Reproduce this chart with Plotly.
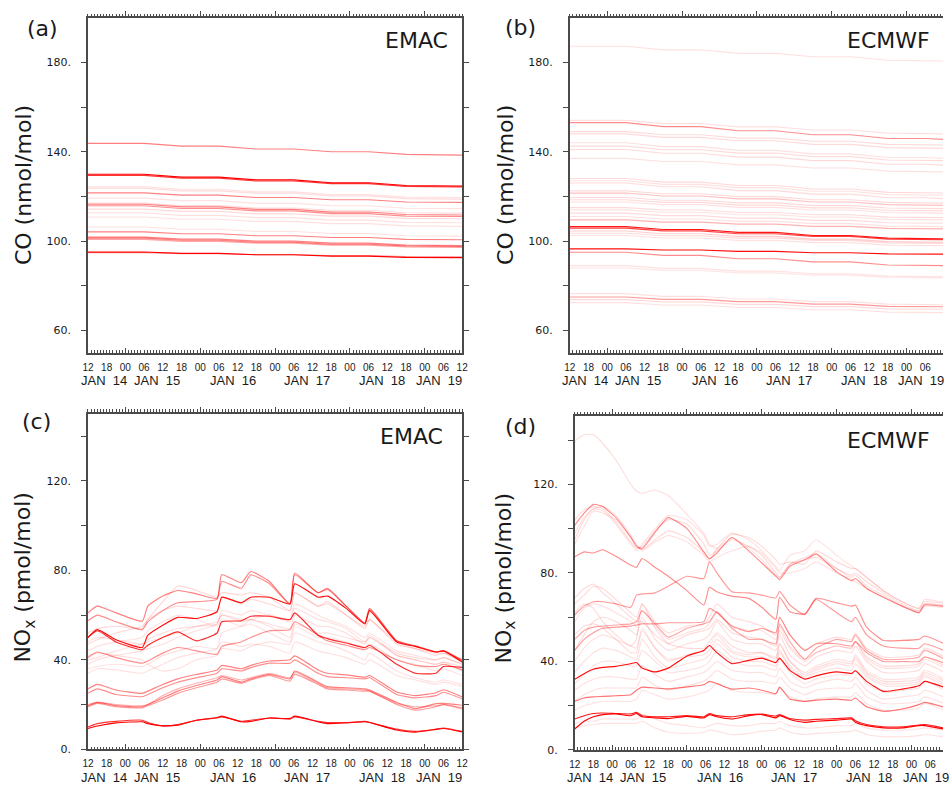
import plotly.graph_objects as go

# ---------------- time axis (hours after the first tick, 12 UTC) ----------------
hour_ticks = [0, 6, 12, 18, 24, 30, 36, 42, 48, 54, 60, 66, 72, 78, 84, 90, 96, 102, 108, 114, 120]
hour_labels = ["12", "18", "00", "06", "12", "18", "00", "06", "12", "18", "00", "06",
               "12", "18", "00", "06", "12", "18", "00", "06", "12"]
date_label_hours = [5, 22, 46.5, 70.3, 94.4, 112.7]
date_labels = ["JAN\u00a0\u00a014", "JAN\u00a0\u00a015", "JAN\u00a0\u00a016",
               "JAN\u00a0\u00a017", "JAN\u00a0\u00a018", "JAN\u00a0\u00a019"]

# ---------------- CO, EMAC (nmol/mol) ----------------
co_hours = [0, 18, 30, 42, 54, 66, 78, 90, 102, 114, 120]
co_emac = [
    [143.7, 143.7, 142.5, 142.5, 141.2, 141.2, 140.0, 140.0, 138.8, 138.8, 138.5],
    [129.9, 129.9, 128.6, 128.6, 127.4, 127.4, 126.1, 126.1, 124.9, 124.9, 124.6],
    [129.4, 129.4, 128.2, 128.2, 126.9, 126.9, 125.7, 125.7, 124.5, 124.5, 124.2],
    [124.3, 124.3, 123.2, 123.2, 122.0, 122.0, 120.8, 120.8, 119.7, 119.7, 119.5],
    [123.7, 123.7, 122.5, 122.5, 121.4, 121.4, 120.2, 120.2, 119.0, 119.0, 118.8],
    [121.6, 121.6, 120.6, 120.6, 119.5, 119.5, 118.5, 118.5, 117.5, 117.5, 117.3],
    [119.2, 119.2, 118.1, 118.1, 116.9, 116.9, 115.8, 115.8, 114.7, 114.7, 114.5],
    [117.0, 117.0, 115.9, 115.9, 114.8, 114.8, 113.8, 113.8, 112.7, 112.7, 112.5],
    [116.5, 116.5, 115.3, 115.3, 114.2, 114.2, 113.0, 113.0, 111.9, 111.9, 111.7],
    [115.8, 115.8, 114.6, 114.6, 113.5, 113.5, 112.3, 112.3, 111.2, 111.2, 111.0],
    [114.3, 114.3, 113.3, 113.3, 112.2, 112.2, 111.2, 111.2, 110.2, 110.2, 110.0],
    [112.6, 112.6, 111.5, 111.5, 110.5, 110.5, 109.4, 109.4, 108.4, 108.4, 108.2],
    [110.8, 110.8, 109.8, 109.8, 108.8, 108.8, 107.8, 107.8, 106.8, 106.8, 106.6],
    [106.3, 106.3, 105.3, 105.3, 104.3, 104.3, 103.4, 103.4, 102.4, 102.4, 102.2],
    [104.1, 104.1, 103.3, 103.3, 102.4, 102.4, 101.6, 101.6, 100.8, 100.8, 100.6],
    [101.8, 101.8, 100.9, 100.9, 100.0, 100.0, 99.1, 99.1, 98.2, 98.2, 98.0],
    [101.3, 101.3, 100.4, 100.4, 99.5, 99.5, 98.6, 98.6, 97.8, 97.8, 97.6],
    [100.8, 100.8, 99.9, 99.9, 99.1, 99.1, 98.2, 98.2, 97.4, 97.4, 97.2],
    [95.1, 95.1, 94.5, 94.5, 93.9, 93.9, 93.3, 93.3, 92.7, 92.7, 92.6],
    [94.8, 94.8, 94.4, 94.4, 93.9, 93.9, 93.5, 93.5, 93.1, 93.1, 93.0],
]
co_emac_weight = [0.5, 1.0, 0.8, 0.12, 0.15, 0.5, 0.12, 0.15, 0.5, 0.45,
                  0.15, 0.12, 0.12, 0.12, 0.5, 0.5, 0.5, 0.35, 1.0, 0.4]

# ---------------- CO, ECMWF (nmol/mol) ----------------
co_ecmwf = [
    [187.2, 187.2, 185.6, 185.6, 184.0, 184.0, 182.5, 182.5, 180.9, 180.9, 180.6],
    [154.0, 154.0, 152.6, 152.6, 151.1, 151.1, 149.7, 149.7, 148.3, 148.3, 148.0],
    [153.0, 153.0, 151.2, 151.2, 149.4, 149.4, 147.6, 147.6, 145.9, 145.9, 145.5],
    [149.0, 149.0, 147.6, 147.6, 146.1, 146.1, 144.7, 144.7, 143.3, 143.3, 143.0],
    [148.0, 148.0, 146.4, 146.4, 144.9, 144.9, 143.3, 143.3, 141.8, 141.8, 141.5],
    [144.0, 144.0, 142.3, 142.3, 140.6, 140.6, 139.0, 139.0, 137.4, 137.4, 137.0],
    [142.5, 142.5, 140.9, 140.9, 139.4, 139.4, 137.8, 137.8, 136.3, 136.3, 136.0],
    [141.0, 141.0, 139.3, 139.3, 137.6, 137.6, 136.0, 136.0, 134.4, 134.4, 134.0],
    [137.0, 137.0, 135.6, 135.6, 134.1, 134.1, 132.7, 132.7, 131.3, 131.3, 131.0],
    [128.0, 128.0, 126.4, 126.4, 124.9, 124.9, 123.3, 123.3, 121.8, 121.8, 121.5],
    [127.0, 127.0, 125.4, 125.4, 123.9, 123.9, 122.3, 122.3, 120.8, 120.8, 120.5],
    [126.0, 126.0, 124.3, 124.3, 122.6, 122.6, 121.0, 121.0, 119.4, 119.4, 119.0],
    [122.5, 122.5, 121.2, 121.2, 119.9, 119.9, 118.5, 118.5, 117.3, 117.3, 117.0],
    [121.5, 121.5, 120.2, 120.2, 118.9, 118.9, 117.5, 117.5, 116.3, 116.3, 116.0],
    [119.5, 119.5, 118.3, 118.3, 117.1, 117.1, 115.9, 115.9, 114.8, 114.8, 114.5],
    [118.5, 118.5, 117.3, 117.3, 116.1, 116.1, 114.9, 114.9, 113.8, 113.8, 113.5],
    [117.5, 117.5, 116.3, 116.3, 115.1, 115.1, 113.9, 113.9, 112.8, 112.8, 112.5],
    [115.0, 115.0, 113.9, 113.9, 112.8, 112.8, 111.8, 111.8, 110.7, 110.7, 110.5],
    [114.0, 114.0, 112.9, 112.9, 111.8, 111.8, 110.8, 110.8, 109.7, 109.7, 109.5],
    [112.5, 112.5, 111.4, 111.4, 110.3, 110.3, 109.3, 109.3, 108.2, 108.2, 108.0],
    [111.0, 111.0, 109.9, 109.9, 108.8, 108.8, 107.8, 107.8, 106.7, 106.7, 106.5],
    [109.5, 109.5, 108.5, 108.5, 107.6, 107.6, 106.6, 106.6, 105.7, 105.7, 105.5],
    [106.5, 106.5, 105.2, 105.2, 103.9, 103.9, 102.5, 102.5, 101.3, 101.3, 101.0],
    [105.8, 105.8, 104.6, 104.6, 103.3, 103.3, 102.1, 102.1, 100.9, 100.9, 100.6],
    [104.5, 104.5, 103.3, 103.3, 102.1, 102.1, 100.9, 100.9, 99.8, 99.8, 99.5],
    [103.5, 103.5, 102.4, 102.4, 101.3, 101.3, 100.3, 100.3, 99.2, 99.2, 99.0],
    [102.5, 102.5, 101.4, 101.4, 100.3, 100.3, 99.3, 99.3, 98.2, 98.2, 98.0],
    [96.5, 96.5, 96.0, 96.0, 95.4, 95.4, 94.8, 94.8, 94.3, 94.3, 94.2],
    [95.0, 95.0, 93.6, 93.6, 92.1, 92.1, 90.7, 90.7, 89.3, 89.3, 89.0],
    [89.0, 89.0, 87.8, 87.8, 86.6, 86.6, 85.4, 85.4, 84.3, 84.3, 84.0],
    [88.0, 88.0, 86.9, 86.9, 85.8, 85.8, 84.8, 84.8, 83.7, 83.7, 83.5],
    [76.5, 76.5, 75.3, 75.3, 74.1, 74.1, 72.9, 72.9, 71.8, 71.8, 71.5],
    [75.0, 75.0, 73.9, 73.9, 72.9, 72.9, 71.8, 71.8, 70.8, 70.8, 70.6],
    [73.8, 73.8, 72.8, 72.8, 71.7, 71.7, 70.7, 70.7, 69.7, 69.7, 69.5],
    [72.5, 72.5, 71.4, 71.4, 70.3, 70.3, 69.3, 69.3, 68.2, 68.2, 68.0],
]
co_ecmwf_weight = [0.12, 0.12, 0.45, 0.15, 0.15, 0.12, 0.15, 0.15, 0.12, 0.15,
                   0.12, 0.15, 0.15, 0.25, 0.15, 0.15, 0.12, 0.15, 0.12, 0.15,
                   0.12, 0.3, 0.9, 0.75, 0.2, 0.15, 0.12, 0.95, 0.45, 0.12,
                   0.1, 0.12, 0.4, 0.15, 0.12]

# ---------------- NOx, EMAC (pmol/mol) ----------------
nox_emac_hours = [0, 3, 9, 17.4, 19.2, 24, 28.8, 34.8, 41.4, 42.9, 49.2, 52.2, 58.2,
                  64.8, 66.3, 73.8, 76.8, 82.8, 88.8, 90.3, 99, 105, 111.6, 114, 120]
nox_emac = [
    [34, 36, 35.5, 34, 35, 38, 41, 43, 45, 52, 55, 58, 60, 58, 65, 60, 58, 55, 50, 52, 44, 42, 40, 41, 38],
    [38, 40, 42, 44, 45, 47, 50, 53, 56, 62, 60, 62, 60, 57, 63, 58, 57, 54, 48, 51, 42, 40, 38, 39, 35],
    [44, 46, 48, 50, 53, 57, 60, 58, 55, 58, 55, 56, 52, 48, 55, 50, 50, 48, 45, 47, 40, 38, 35, 36, 33],
    [47, 49, 52, 55, 58, 62, 64, 63, 62, 68, 65, 67, 65, 62, 70, 64, 65, 60, 55, 58, 48, 45, 43, 43, 40],
    [42, 43, 42, 40, 38, 35, 36, 40, 42, 45, 44, 46, 48, 47, 52, 48, 47, 44, 40, 43, 35, 32, 30, 31, 29],
    [40, 41, 44, 47, 48, 50, 52, 55, 57, 60, 58, 58, 55, 50, 56, 52, 52, 50, 48, 50, 42, 40, 38, 39, 37],
    [36, 37, 38, 37, 38, 42, 44, 46, 45, 48, 46, 47, 46, 43, 48, 44, 43, 41, 38, 40, 33, 31, 29, 30, 28],
    [48, 50, 49, 47, 49, 52, 54, 55, 56, 60, 57, 58, 56, 54, 60, 55, 55, 52, 47, 50, 43, 41, 40, 41, 38],
    [52, 54, 55, 54, 58, 66, 73, 71, 68, 70, 69, 70, 68, 62, 70, 64, 66, 60, 54, 58, 47, 45, 42, 43, 39],
    [20, 21, 20, 19.5, 20, 24, 27, 29.5, 32, 33, 31, 32, 34, 32, 34.5, 29.5, 27.5, 27, 26.5, 26, 20.5, 19, 19.5, 20, 18],
    [19, 20.5, 19, 18.5, 19.5, 22, 25, 27.5, 30, 31.5, 29.5, 31, 33, 30.5, 33.5, 29, 27, 26.5, 26, 26, 20, 17.5, 19, 20, 18.5],
    [25, 27, 24.5, 23.5, 24.5, 27.5, 30, 32, 34, 36, 35, 36.5, 38.5, 38.5, 40, 34, 32.5, 32, 31.5, 32, 24.5, 23, 24, 25.5, 22.5],
    [41, 43.5, 41, 38.5, 39.5, 43, 45.5, 44, 42.5, 46, 48, 50, 53, 53.5, 57, 51, 48.5, 46.5, 44.5, 45.5, 40, 37.5, 37, 38, 35.5],
    [57.5, 60, 57, 53.5, 57, 62, 65.5, 66, 67, 75, 72, 78, 74, 65, 78, 70, 71.5, 64, 56.5, 62.5, 48.5, 46, 43.5, 44, 40],
    [61, 64, 61, 57.3, 64, 68.5, 71, 69.5, 67.5, 78, 74.5, 79.5, 75, 65, 78.8, 70, 72, 64, 56.5, 63, 48.5, 46.3, 43.6, 44, 39.6],
    [27, 29, 26.5, 25, 26, 29, 31.5, 33.5, 35.5, 37.5, 36, 37.5, 39.5, 40, 41.8, 35.5, 34, 33.3, 32.2, 33, 25.6, 24, 25.3, 26.6, 23.4],
    [19.5, 21, 19.5, 19, 20, 23, 26, 28.5, 31, 32.5, 30, 31.5, 33.5, 31.5, 35, 30, 28, 27.5, 27, 26.5, 21, 18.2, 20.4, 20.5, 19.7],
    [10, 11.5, 12.5, 13, 12, 10.5, 11, 13, 14, 14.5, 12.5, 13, 14, 13.5, 14.5, 12.5, 12, 12, 12.5, 12, 9, 8, 9, 9.5, 8],
    [50, 53, 48, 44.5, 46.5, 50, 52.5, 48.5, 52, 57, 57.5, 59.5, 59.5, 58, 61, 51, 49.5, 47.5, 45.5, 46.5, 38, 34, 34, 37, 36.6],
    [50, 53.5, 49, 45.5, 51, 55.5, 59, 58.5, 61.5, 68, 65.5, 68, 68, 65, 74, 68, 68.5, 63, 56, 62, 48, 46, 43.5, 44, 39],
    [9.3, 10.4, 11.8, 12.3, 11.5, 10.5, 10.8, 13, 14.2, 14.8, 12.3, 12.5, 14, 13.8, 14.8, 12.3, 11.5, 11.8, 12.3, 12, 8.6, 7.7, 8.9, 9.3, 7.8],
]
nox_emac_weight = [0.12, 0.13, 0.12, 0.14, 0.12, 0.13, 0.12, 0.14, 0.16,
                   0.3, 0.4, 0.45, 0.45, 0.45, 0.5, 0.5, 0.5, 0.8, 0.85, 0.95, 1.0]

# ---------------- NOx, ECMWF (pmol/mol) ----------------
nox_ecmwf_hours = [0, 3, 6, 9, 13.2, 18, 19.8, 21.6, 25.8, 30, 36, 41.4, 43.2, 45.6, 50.4, 55.8,
                   60, 64.5, 65.7, 69, 73.8, 77.4, 84, 88.8, 90, 93.6, 99, 105, 110.4, 112.2, 120]
nox_ecmwf = [
    [66, 70, 74, 73, 68, 62, 60, 66, 58, 53, 56, 57, 60, 66, 60, 58, 56, 52, 60, 52, 45, 48, 51, 50, 53, 46, 42, 42, 43, 46, 41],
    [58, 64, 66, 65, 62, 58, 56, 63, 56, 50, 53, 55, 57, 62, 56, 54, 54, 50, 56, 47, 41, 44, 47, 46, 49, 41, 37, 37, 38, 41, 36],
    [45, 52, 58, 60, 58, 54, 52, 60, 50, 45, 48, 50, 52, 58, 50, 48, 48, 45, 52, 43, 38, 42, 45, 44, 47, 40, 35, 35, 36, 39, 34],
    [40, 46, 50, 52, 50, 47, 46, 55, 46, 40, 43, 45, 47, 52, 45, 43, 44, 42, 48, 40, 35, 38, 41, 40, 43, 36, 32, 32, 33, 36, 31],
    [35, 40, 44, 46, 45, 42, 41, 50, 42, 37, 39, 41, 43, 48, 42, 40, 40, 38, 44, 37, 32, 35, 37, 36, 39, 33, 29, 29, 30, 33, 28],
    [30, 34, 38, 40, 40, 38, 38, 45, 40, 35, 36, 38, 40, 45, 40, 38, 38, 36, 41, 35, 30, 32, 34, 34, 36, 30, 26, 27, 28, 31, 26],
    [27, 30, 32, 33, 33, 32, 32, 38, 34, 31, 33, 35, 37, 40, 36, 35, 35, 33, 37, 31, 28, 30, 32, 31, 33, 27, 23, 24, 25, 27, 23],
    [22, 25, 27, 28, 28, 28, 28, 33, 29, 27, 29, 31, 33, 36, 32, 31, 31, 30, 33, 28, 25, 27, 28, 28, 30, 24, 21, 21, 22, 24, 20],
    [18, 20, 21, 22, 22, 22, 23, 27, 25, 23, 24, 26, 27, 30, 27, 26, 26, 25, 28, 24, 22, 23, 24, 24, 26, 21, 18, 18, 19, 21, 17],
    [12, 13, 13, 14, 14, 14, 14, 16, 14, 12, 11, 10, 11, 12, 11, 11, 12, 12, 13, 11, 10, 10, 11, 11, 12, 10, 9, 9, 9.5, 10, 8.5],
    [10, 11, 11.5, 12, 12, 12, 12, 13, 10, 8, 7.5, 8, 9, 8.5, 7, 7.5, 8.5, 9, 10, 8, 7, 7.5, 8, 8.5, 9, 7, 6, 6, 6.5, 7, 5.5],
    [68.7, 73, 75, 71, 66, 60, 58, 58, 52, 48, 52, 54, 55, 59, 53, 51, 50, 47, 54, 46, 40, 44, 47, 46, 49, 42, 38, 38, 39, 42, 37],
    [62, 66, 64, 58, 52, 47, 50, 66, 55, 48, 46, 46, 49, 53, 47, 44, 44, 41, 48, 40, 34, 37, 40, 39, 42, 35, 31, 31, 32, 35, 30],
    [52, 56, 57, 55, 50, 44, 44, 54, 46, 41, 42, 43, 45, 50, 44, 42, 42, 40, 45, 38, 33, 36, 39, 38, 41, 34, 30, 30, 31, 34, 29],
    [139.5, 142.5, 142.5, 138.5, 131, 120, 117, 116, 117.5, 115, 106.5, 98, 93, 91, 96, 91, 86, 79, 78, 84, 87, 89, 82, 78, 79, 74, 70, 65, 62.5, 66, 65],
    [104, 108.5, 110, 109, 103, 94, 91, 92, 99, 104, 102, 93, 88, 90, 95, 92, 88, 80, 78, 84, 86, 87, 82, 79, 80, 76, 71, 66, 63, 66, 65],
    [95, 104, 109, 110, 106, 97, 92.5, 90.5, 95, 99, 96, 89, 86, 91, 97.5, 96, 92, 86, 84, 85, 84, 90, 85, 82, 82, 78, 72, 67, 64, 67, 66],
    [93, 101, 108, 107, 104, 96, 93, 90, 94, 97, 94, 88, 85, 87, 90, 92, 89, 82, 80, 80, 82, 85, 80, 77, 76, 73, 69, 65, 62, 65, 64],
    [98, 105, 109, 108, 102, 93, 90, 93, 100, 106, 104, 97, 92, 93, 98, 95, 90, 83, 81, 88, 90, 95, 88, 83, 82, 78, 72, 67, 64, 68, 66],
    [50, 54, 55.5, 56, 56.5, 57, 58, 63, 57, 51, 55, 57, 58, 62.5, 55, 50, 50, 48, 57, 49, 41, 46, 50, 49, 52, 45, 41, 41, 42, 45, 40],
    [45, 50, 53, 55, 55.5, 56, 56.5, 57, 57, 57.5, 57.5, 58, 64, 62, 56, 53.5, 55, 53, 60, 52, 45, 48, 48, 47, 49, 44, 40, 40, 40, 42, 38.5],
    [61, 65, 67, 67, 66, 64.5, 70, 70.5, 71, 74, 78.5, 77.5, 85, 80, 71.5, 71, 70, 68.7, 71.7, 65.5, 61.2, 68, 62, 58, 60, 52, 47, 46, 46, 48, 44],
    [87.3, 89.5, 89, 90.5, 87.5, 83.5, 82.5, 86.5, 82.5, 78.5, 72, 65.5, 73.5, 71.5, 69.5, 68.5, 64.5, 59, 69, 62.5, 61.5, 68.5, 66.5, 65, 65.5, 55.5, 49.5, 49.5, 50, 51.5, 47],
    [101.5, 107, 111, 110, 105, 96, 92, 91, 98.5, 105, 100, 89.5, 86.5, 89, 96, 90, 84.5, 78.5, 77, 83, 86, 88.5, 80.5, 76.5, 77.5, 73, 69, 65, 62, 65.5, 64.5],
    [22, 23.5, 24, 24.2, 24.5, 25, 27, 28.4, 28, 27.6, 28.5, 29.5, 31, 30, 27.5, 28, 27, 25.5, 28.4, 23, 22, 22.5, 23, 22.5, 23.5, 19.5, 17.5, 18.5, 20.5, 21.5, 18.7],
    [14, 15.5, 16.5, 16.7, 16.5, 16.3, 17, 15.5, 15, 15, 15.5, 15, 16.5, 15.5, 15, 16, 16.2, 15.3, 16, 14.2, 13.5, 13.8, 14.2, 14.5, 13.2, 11.5, 10.5, 10.5, 11.3, 11.5, 9.5],
    [32, 34.5, 36.5, 37.3, 37.8, 39, 39.5, 37, 35.3, 37, 42.5, 45, 47.2, 44, 39, 40.5, 41.5, 39.5, 41.5, 36, 32, 33.5, 35.3, 34.6, 35.8, 31, 26.5, 27.5, 29, 31, 27.5],
    [9.5, 13, 15, 16, 16.3, 15.5, 16.5, 15, 14.5, 14.2, 15.2, 14.5, 16, 15, 14, 15.5, 16, 14.5, 15.5, 13.8, 12.5, 13, 13.5, 14, 12.5, 11, 10, 10, 11, 11, 9],
]
nox_ecmwf_weight = [0.14, 0.12, 0.14, 0.12, 0.13, 0.12, 0.13, 0.12, 0.12, 0.12, 0.12, 0.15, 0.15, 0.13,
                    0.13, 0.15, 0.15, 0.12, 0.12, 0.35, 0.4, 0.4, 0.45, 0.45, 0.55, 0.9, 0.95, 1.0]

# ---------------- layout helpers ----------------
W, H = 949, 789
AX = "#4a4a4a"
TXT = "#1a1a1a"


def fx(p):
    return p / W


def fy(p):
    return 1 - p / H


panels = [
    dict(lab="(a)", model="EMAC", hours=co_hours, lines=co_emac, w=co_emac_weight,
         xpx=(83, 462), ypx=(18, 356), yr=[50, 199.9], y0=60, smooth=False,
         title="CO (nmol/mol)", tx=18, ty=187, lx=37, ly=29, mx=416, my=41, mirror=True),
    dict(lab="(b)", model="ECMWF", hours=co_hours, lines=co_ecmwf, w=co_ecmwf_weight,
         xpx=(571, 950), ypx=(18, 356), yr=[50, 199.9], y0=60, smooth=False,
         title="CO (nmol/mol)", tx=506, ty=187, lx=521, ly=28, mx=894, my=41, mirror=False),
    dict(lab="(c)", model="EMAC", hours=nox_emac_hours, lines=nox_emac, w=nox_emac_weight,
         xpx=(83, 462), ypx=(417.5, 756), yr=[0, 150], y0=0, smooth=True,
         title="NO<sub>x</sub> (pmol/mol)", tx=19, ty=583, lx=31, ly=425, mx=411, my=440, mirror=True),
    dict(lab="(d)", model="ECMWF", hours=nox_ecmwf_hours, lines=nox_ecmwf, w=nox_ecmwf_weight,
         xpx=(576, 955), ypx=(420, 756.7), yr=[0, 150.8], y0=0, smooth=True,
         title="NO<sub>x</sub> (pmol/mol)", tx=506, ty=584, lx=521, ly=430, mx=894, my=444, mirror=False),
]

fig = go.Figure()
layout = dict(width=W, height=H, margin=dict(l=0, r=0, t=0, b=0),
              paper_bgcolor="white", plot_bgcolor="white", showlegend=False)
annotations = []

for k, p in enumerate(panels):
    n = k + 1
    xid = "x" if n == 1 else f"x{n}"
    yid = "y" if n == 1 else f"y{n}"
    xkey = "xaxis" if n == 1 else f"xaxis{n}"
    ykey = "yaxis" if n == 1 else f"yaxis{n}"
    xb_id, xt_id = f"x{4 + n}", f"x{8 + n}"

    x0, x1 = p["xpx"]
    xmax = 120.0
    dom_r = x1
    if x1 > W:
        xmax = 120.0 * (W - x0) / (x1 - x0)
        dom_r = W
    xdom = [fx(x0), fx(dom_r)]
    ydom = [fy(p["ypx"][1]), fy(p["ypx"][0])]

    layout[xkey] = dict(domain=xdom, range=[0, xmax], anchor=yid, tickmode="array",
                        tickvals=hour_ticks, ticktext=hour_labels, ticks="",
                        showline=True, linecolor=AX, linewidth=1.6, mirror=False,
                        showgrid=False, zeroline=False, ticklabelstandoff=4,
                        tickfont=dict(family="Liberation Sans", size=10, color=TXT))
    layout[ykey] = dict(domain=ydom, range=p["yr"], anchor=xid, tickmode="linear",
                        tick0=p["y0"], dtick=40, ticksuffix=".", ticks="outside", ticklen=5,
                        tickcolor=AX, tickwidth=1.2, showline=True, linecolor=AX, linewidth=1.6,
                        mirror="ticks" if p["mirror"] else False, showgrid=False, zeroline=False,
                        ticklabelstandoff=8,
                        minor=dict(tickmode="linear", tick0=0, dtick=20, ticks="outside", ticklen=5,
                                   tickcolor=AX, tickwidth=1.2, showgrid=False),
                        tickfont=dict(family="DejaVu Sans", size=11, color=TXT))
    minor_in = dict(tickmode="linear", tick0=0, dtick=1, ticks="inside", ticklen=2.5,
                    tickcolor=AX, tickwidth=0.9, showgrid=False)
    minor_out = dict(minor_in, ticks="outside")
    layout[f"xaxis{4 + n}"] = dict(overlaying=xid, anchor=yid, side="bottom", range=[0, xmax],
                                   tickmode="linear", tick0=12, dtick=24, ticks="inside", ticklen=5,
                                   tickcolor=AX, tickwidth=1.1, showticklabels=False, showline=False,
                                   showgrid=False, zeroline=False, minor=minor_in)
    layout[f"xaxis{8 + n}"] = dict(overlaying=xid, anchor=yid, side="top", range=[0, xmax],
                                   tickmode="linear", tick0=12, dtick=24, ticks="outside", ticklen=5,
                                   tickcolor=AX, tickwidth=1.1, showticklabels=False, showline=True,
                                   linecolor=AX, linewidth=1.6, showgrid=False, zeroline=False,
                                   minor=minor_out)
    for ov in (xb_id, xt_id):
        fig.add_trace(go.Scatter(x=[None], y=[None], xaxis=ov, yaxis=yid, mode="lines",
                                 showlegend=False, hoverinfo="skip"))

    shape = dict(shape="spline", smoothing=0.5) if p["smooth"] else dict(shape="linear")
    order = sorted(range(len(p["lines"])), key=lambda i: p["w"][i])
    for i in order:
        fig.add_trace(go.Scatter(x=p["hours"], y=p["lines"][i], mode="lines", xaxis=xid, yaxis=yid,
                                 line=dict(color=f"rgba(255,0,0,{p['w'][i]})", width=1.15, **shape),
                                 showlegend=False, hoverinfo="skip"))

    # texts
    annotations.append(dict(text=p["lab"], x=fx(p["lx"]), y=fy(p["ly"]), xref="paper", yref="paper",
                            showarrow=False, xanchor="center", yanchor="middle",
                            font=dict(family="DejaVu Sans", size=22, color=TXT)))
    annotations.append(dict(text=p["model"], x=fx(p["mx"]), y=fy(p["my"]), xref="paper", yref="paper",
                            showarrow=False, xanchor="center", yanchor="middle",
                            font=dict(family="DejaVu Sans", size=22, color=TXT)))
    annotations.append(dict(text=p["title"], x=fx(p["tx"]), y=fy(p["ty"]), xref="paper", yref="paper",
                            showarrow=False, xanchor="center", yanchor="middle", textangle=-90,
                            font=dict(family="DejaVu Sans", size=22, color=TXT)))
    date_y = p["ypx"][1] + 28
    for h, t in zip(date_label_hours, date_labels):
        annotations.append(dict(text=t, x=h, y=fy(date_y), xref=xid, yref="paper",
                                showarrow=False, xanchor="center", yanchor="middle",
                                font=dict(family="Liberation Sans", size=13, color=TXT)))

layout["annotations"] = annotations
fig.update_layout(**layout)
fig.write_html("out.html", config={"displayModeBar": False},
               post_script="document.body.style.margin='0px';document.body.style.overflow='hidden';")
